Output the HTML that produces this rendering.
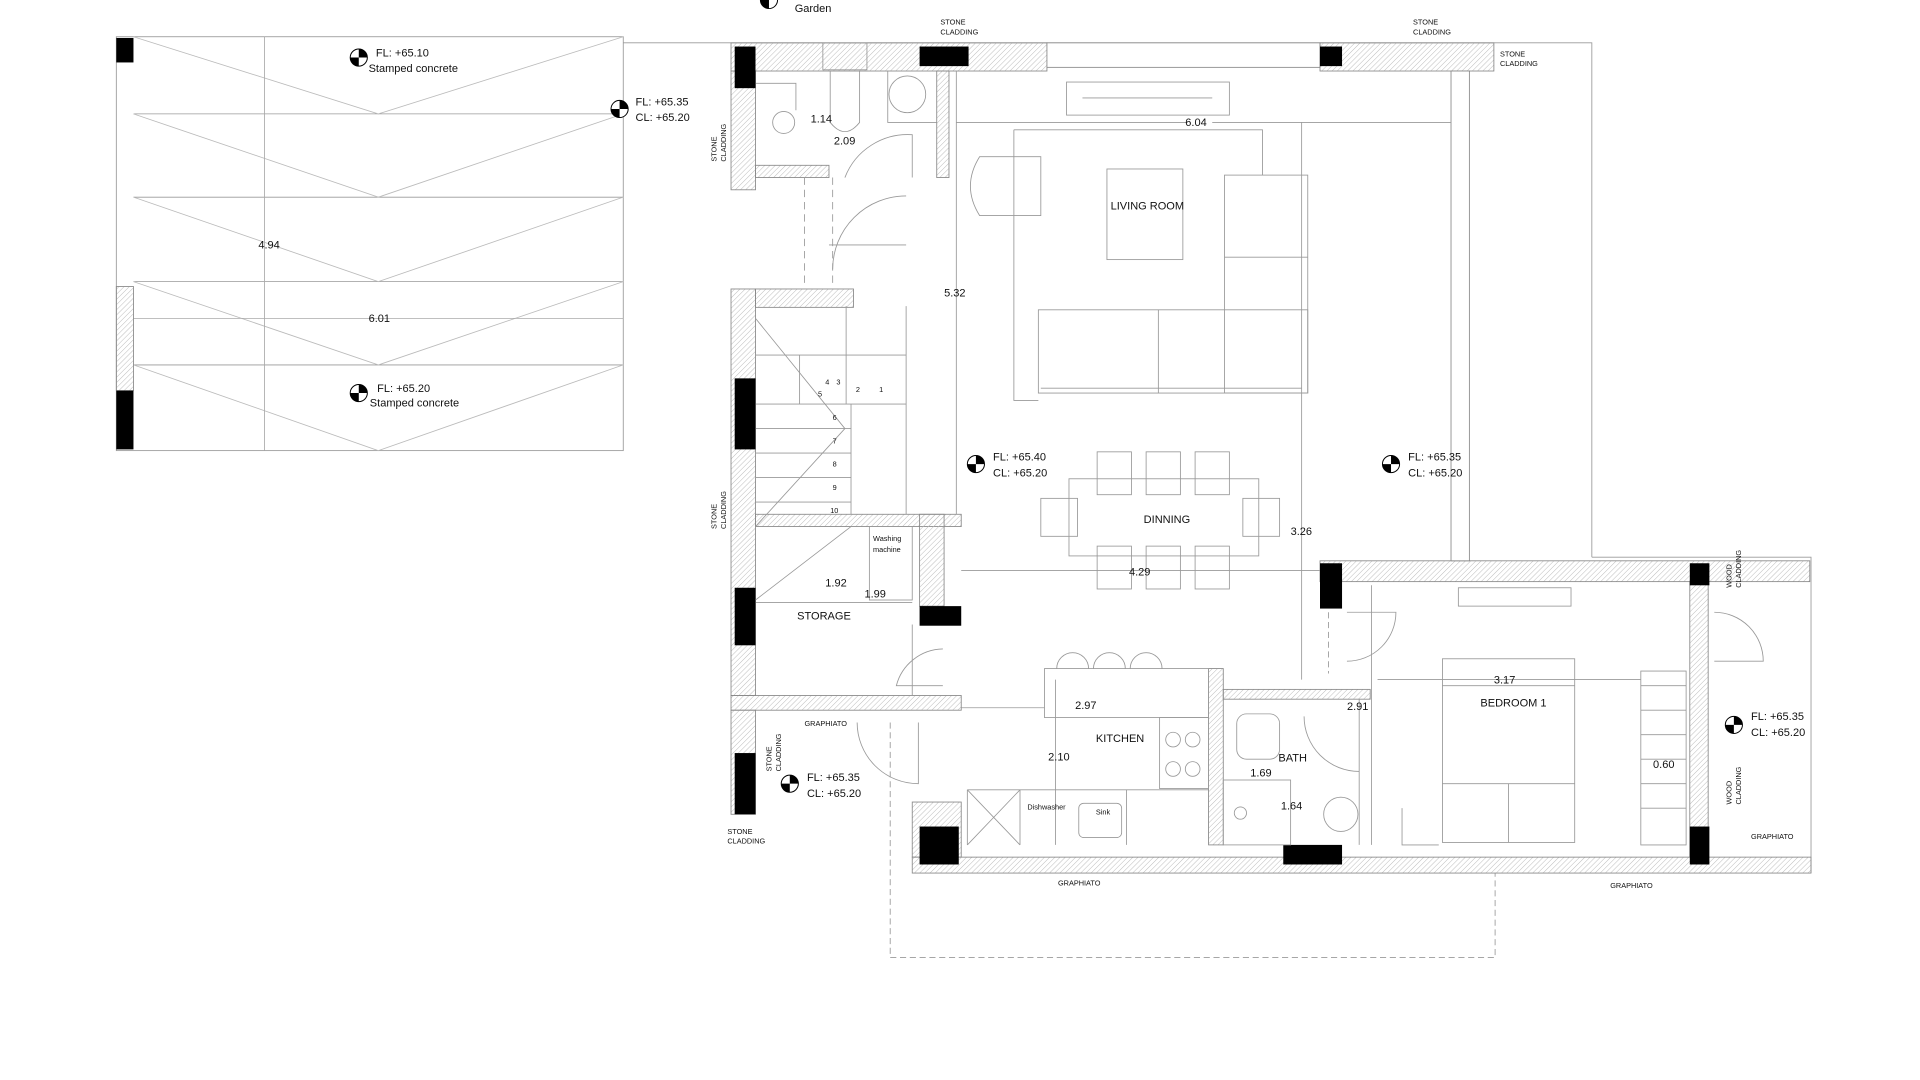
<!DOCTYPE html>
<html><head><meta charset="utf-8"><style>
html,body{margin:0;padding:0;background:#fff;width:1920px;height:1080px;overflow:hidden}
svg{display:block}
text{font-family:"Liberation Sans",sans-serif;fill:#111}
</style></head><body>
<svg width="1920" height="1080" viewBox="0 0 1568 882" xmlns="http://www.w3.org/2000/svg">
<defs>
<pattern id="h" width="3" height="3" patternUnits="userSpaceOnUse" patternTransform="rotate(45)"><line x1="0" y1="0" x2="0" y2="3" stroke="#bbb" stroke-width="0.8"/></pattern>
<g id="mk"><circle r="7" fill="#fff" stroke="#000" stroke-width="0.8"/><path d="M0,-7A7,7 0 0 1 7,0L0,0Z M0,7A7,7 0 0 1 -7,0L0,0Z" fill="#000"/></g>
</defs>
<g fill="none" stroke="#999" stroke-width="0.7">
<!-- parking -->
<rect x="95" y="30" width="414" height="338"/>
<path d="M109 93H509M109 161H509M109 230H509M109 298H509"/>
<path d="M109 30L309 93L509 30M109 93L309 161L509 93M109 161L309 230L509 161M109 230L309 298L509 230M109 298L309 368L509 298" stroke="#bbb"/>
<path d="M216 30V368M109 260H509" stroke="#aaa"/>
<!-- outer outlines -->
<path d="M509 35H1300V455M1300 455H1479V713" />
<path d="M727 590V782" stroke-dasharray="5,3"/>
<path d="M727 782H1221V713" stroke-dasharray="5,3"/>
</g>
<!-- walls hatched -->
<g fill="url(#h)" stroke="#888" stroke-width="0.7">
<rect x="95" y="234" width="14" height="85"/>
<rect x="597" y="35" width="258" height="23"/>
<rect x="855" y="35" width="223" height="20" fill="#fff"/>
<rect x="1078" y="35" width="142" height="23"/>
<rect x="597" y="58" width="20" height="97"/>
<rect x="617" y="135" width="60" height="10"/>
<rect x="765" y="58" width="10" height="87"/>
<rect x="597" y="236" width="20" height="332"/>
<rect x="617" y="236" width="80" height="15"/>
<rect x="617" y="420" width="168" height="10"/>
<rect x="751" y="420" width="20" height="75"/>
<rect x="597" y="568" width="188" height="12"/>
<rect x="597" y="580" width="20" height="85"/>
<rect x="745" y="655" width="40" height="45"/>
<rect x="745" y="700" width="734" height="13"/>
<rect x="1078" y="458" width="400" height="17"/>
<rect x="1380" y="475" width="15" height="225"/>
<rect x="987" y="546" width="12" height="144"/>
<rect x="999" y="563" width="120" height="8"/>
<rect x="1185" y="58" width="15" height="400" fill="#fff"/>
</g>
<!-- black pillars -->
<g fill="#000">
<rect x="95" y="31" width="14" height="20"/><rect x="95" y="319" width="14" height="48"/>
<rect x="600" y="38" width="17" height="34"/><rect x="751" y="38" width="40" height="16"/><rect x="1078" y="38" width="18" height="16"/>
<rect x="600" y="309" width="17" height="58"/><rect x="600" y="480" width="17" height="47"/><rect x="600" y="615" width="17" height="50"/>
<rect x="751" y="495" width="34" height="16"/>
<rect x="751" y="675" width="32" height="31"/><rect x="1048" y="690" width="48" height="16"/>
<rect x="1078" y="460" width="18" height="37"/><rect x="1380" y="460" width="16" height="18"/><rect x="1380" y="675" width="16" height="31"/>
</g>
<g fill="none" stroke="#999" stroke-width="0.7">
<!-- WC -->
<rect x="672" y="35" width="36" height="22"/><path d="M678 58V100Q690 115 702 100V58"/>
<circle cx="741" cy="77" r="15"/><path d="M725 58V100H765"/>
<circle cx="640" cy="100" r="9"/><path d="M617 68H650V90"/>
<path d="M680 145V235M657 145V235" stroke-dasharray="6,4"/>
<path d="M677 200H740M740 160A60 60 0 0 0 680 220"/>
<path d="M690 145A55 55 0 0 1 745 110V145"/>
<path d="M781 58V420"/>
<!-- living -->
<rect x="871" y="67" width="133" height="27"/><path d="M884 80H990"/>
<path d="M828 106H1031V143M828 106V327H848"/>
<rect x="904" y="138" width="62" height="74"/>
<path d="M850 128H800Q785 152 800 176H850Z"/>
<rect x="1000" y="143" width="68" height="178"/><path d="M1000 210H1068M848 253H1068V321H848ZM946 253V321M850 317H1063"/>
<path d="M970 100H781M990 100H1185"/>
<!-- dinning -->
<rect x="873" y="391" width="155" height="63"/>
<g><rect x="896" y="369" width="28" height="35"/><rect x="936" y="369" width="28" height="35"/><rect x="976" y="369" width="28" height="35"/>
<rect x="896" y="446" width="28" height="35"/><rect x="936" y="446" width="28" height="35"/><rect x="976" y="446" width="28" height="35"/>
<rect x="850" y="407" width="30" height="31"/><rect x="1015" y="407" width="30" height="31"/></g>
<path d="M785 466H1078M1063 100V555"/>
<!-- stairs -->
<path d="M617 290H740M653 290V330M691 250V330M740 250V420M617 330H740M617 350H695M617 370H695M617 390H695M617 410H695M695 330V420"/>
<path d="M617 260L690 350M617 430L690 350M617 490L695 430"/>
<rect x="710" y="430" width="35" height="60"/>
<path d="M617 492H745M745 510V568"/>
<path d="M770 530A40 40 0 0 0 732 560H770"/>
<!-- kitchen -->
<rect x="853" y="546" width="134" height="40"/>
<path d="M863 546A13 13 0 0 1 889 546M893 546A13 13 0 0 1 919 546M923 546A13 13 0 0 1 949 546"/>
<rect x="947" y="586" width="40" height="58"/><circle cx="958" cy="604" r="6"/><circle cx="974" cy="604" r="6"/><circle cx="958" cy="628" r="6"/><circle cx="974" cy="628" r="6"/>
<path d="M790 645H987M790 645V690M833 645V690M920 645V690"/><rect x="881" y="656" width="35" height="28" rx="4"/>
<path d="M790 645L833 690M833 645L790 690"/>
<path d="M785 578H853M862 555V690"/>
<path d="M700 590A50 50 0 0 0 750 640V590"/>
<!-- bath -->
<rect x="1010" y="583" width="35" height="37" rx="8"/>
<rect x="999" y="637" width="55" height="53"/><circle cx="1095" cy="665" r="14"/><circle cx="1013" cy="664" r="5"/>
<path d="M1110 571V690M1065 585A45 45 0 0 0 1110 630"/>
<!-- bedroom -->
<rect x="1178" y="538" width="108" height="150"/><path d="M1178 640H1286M1232 640V688M1178 560H1286"/>
<rect x="1191" y="480" width="92" height="15"/>
<path d="M1340 548V690H1377V548Z M1340 560H1377M1340 580H1377M1340 600H1377M1340 620H1377M1340 640H1377M1340 660H1377"/>
<path d="M1125 555H1340M1120 478V690M1145 660V690H1175"/>
<path d="M1100 500H1140A40 40 0 0 1 1100 540"/>
<path d="M1400 500A40 40 0 0 1 1440 540H1400"/>
<path d="M1085 500V550" stroke-dasharray="5,3"/>
</g>
<!-- markers -->
<use href="#mk" x="293" y="47"/><use href="#mk" x="506" y="89"/><use href="#mk" x="293" y="321"/>
<use href="#mk" x="797" y="379"/><use href="#mk" x="1136" y="379"/><use href="#mk" x="645" y="640"/><use href="#mk" x="1416" y="592"/><use href="#mk" x="628" y="0"/>
<g font-size="9">
<text x="307" y="46">FL: +65.10</text><text x="301" y="59">Stamped concrete</text>
<text x="519" y="86">FL: +65.35</text><text x="519" y="99">CL: +65.20</text>
<text x="308" y="320">FL: +65.20</text><text x="302" y="332">Stamped concrete</text>
<text x="811" y="376">FL: +65.40</text><text x="811" y="389">CL: +65.20</text>
<text x="1150" y="376">FL: +65.35</text><text x="1150" y="389">CL: +65.20</text>
<text x="659" y="638">FL: +65.35</text><text x="659" y="651">CL: +65.20</text>
<text x="1430" y="588">FL: +65.35</text><text x="1430" y="601">CL: +65.20</text>
<text x="649" y="10">Garden</text>
<text x="211" y="203">4.94</text><text x="301" y="263">6.01</text>
<text x="662" y="100">1.14</text><text x="681" y="118">2.09</text><text x="968" y="103">6.04</text><text x="771" y="242">5.32</text>
<text x="907" y="171">LIVING ROOM</text><text x="934" y="427">DINNING</text><text x="1054" y="437">3.26</text><text x="922" y="470">4.29</text>
<text x="674" y="479">1.92</text><text x="706" y="488">1.99</text><text x="651" y="506">STORAGE</text>
<text x="878" y="579">2.97</text><text x="895" y="606">KITCHEN</text><text x="856" y="621">2.10</text>
<text x="1100" y="580">2.91</text><text x="1044" y="622">BATH</text><text x="1021" y="634">1.69</text><text x="1046" y="661">1.64</text>
<text x="1220" y="558">3.17</text><text x="1209" y="577">BEDROOM 1</text><text x="1350" y="627">0.60</text>
</g>
<g font-size="6">
<text x="674" y="314">4</text><text x="683" y="314">3</text><text x="668" y="324">5</text><text x="699" y="320">2</text><text x="718" y="320">1</text>
<text x="680" y="343">6</text><text x="680" y="362">7</text><text x="680" y="381">8</text><text x="680" y="400">9</text><text x="678" y="419">10</text>
<text x="713" y="442">Washing</text><text x="713" y="451">machine</text>
<text x="839" y="661">Dishwasher</text><text x="895" y="665">Sink</text>
<text x="768" y="20">STONE</text><text x="768" y="28">CLADDING</text>
<text x="1154" y="20">STONE</text><text x="1154" y="28">CLADDING</text>
<text x="1225" y="46">STONE</text><text x="1225" y="54">CLADDING</text>
<text x="657" y="593">GRAPHIATO</text><text x="864" y="723">GRAPHIATO</text><text x="1315" y="725">GRAPHIATO</text><text x="1430" y="685">GRAPHIATO</text>
<text x="594" y="681">STONE</text><text x="594" y="689">CLADDING</text>
<text transform="translate(585,132) rotate(-90)">STONE</text><text transform="translate(593,132) rotate(-90)">CLADDING</text>
<text transform="translate(585,432) rotate(-90)">STONE</text><text transform="translate(593,432) rotate(-90)">CLADDING</text>
<text transform="translate(630,630) rotate(-90)">STONE</text><text transform="translate(638,630) rotate(-90)">CLADDING</text>
<text transform="translate(1414,480) rotate(-90)">WOOD</text><text transform="translate(1422,480) rotate(-90)">CLADDING</text>
<text transform="translate(1414,657) rotate(-90)">WOOD</text><text transform="translate(1422,657) rotate(-90)">CLADDING</text>
</g>
</svg>
</body></html>
